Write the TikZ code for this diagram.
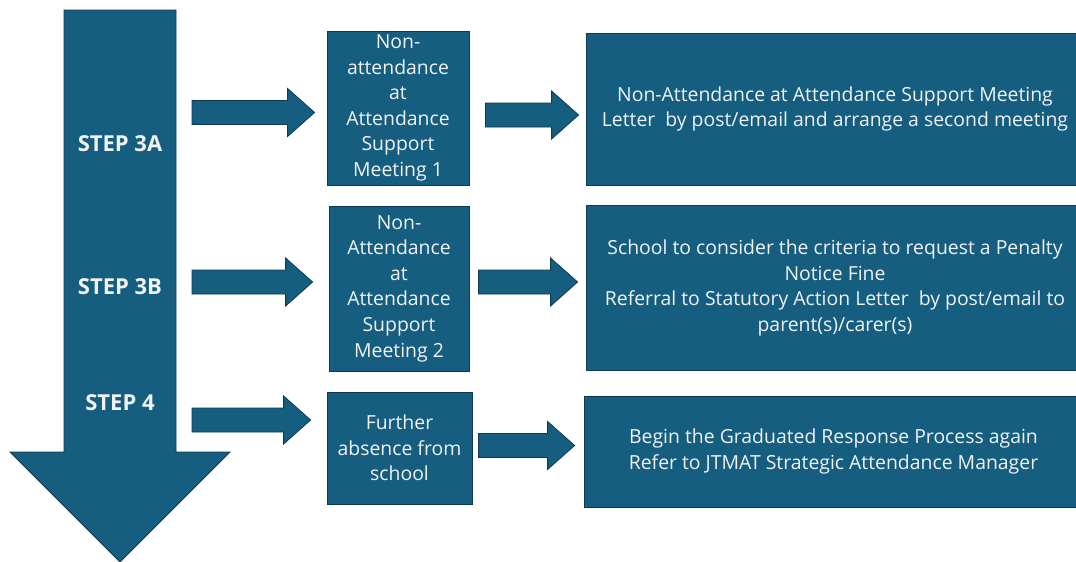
\documentclass[tikz,border=0pt]{standalone}
\usepackage{fontspec}
\setmainfont{Open Sans}
\usetikzlibrary{calc, positioning}

\definecolor{stepblue}{RGB}{22,94,128}
\definecolor{stepedge}{RGB}{15,58,80}
\definecolor{steptext}{RGB}{240,242,244}

% block arrow: #1 tail (sets the height), #2 tip (only its x is used)
\newcommand{\blockarrow}[2]{%
  \draw[blockfill] let \p1=(#1), \p2=(#2) in
    (\x1,\y1+12pt) -- (\x2-27pt,\y1+12pt) -- (\x2-27pt,\y1+24pt) -- (\x2,\y1)
    -- (\x2-27pt,\y1-24pt) -- (\x2-27pt,\y1-12pt) -- (\x1,\y1-12pt) -- cycle;}

\begin{document}
\begin{tikzpicture}[x=1pt, y=-1pt,
    blockfill/.style={fill=stepblue, draw=stepedge, line width=0.8pt},
    box/.style={blockfill, rectangle, text=steptext, align=center, inner sep=0pt,
                font=\fontsize{19.4}{25.6}\selectfont},
    steplabel/.style={text=steptext, font=\bfseries\fontsize{22}{26}\selectfont}]

    \useasboundingbox (0,0) rectangle (1076,562);
    \clip (0,0) rectangle (1076,562);
    \fill[white] (0,0) rectangle (1076,562);

    % Draw the big down arrow
    \draw[blockfill] (64,10) -- (176,10) -- (176,452) -- (230,452) -- (120,562)
        -- (10,452) -- (64,452) -- cycle;

    \node[steplabel] (step3a) at (120,144) {STEP 3A};
    \node[steplabel] (step3b) at (120,287) {STEP 3B};
    \node[steplabel] (step4)  at (120,403) {STEP 4};

    % Draw the middle boxes
    \node[box, minimum width=142pt, minimum height=154pt] (meet1) at (398,108)
        {Non-\\attendance\\at\\Attendance\\Support\\Meeting 1};
    \node[box, minimum width=140pt, minimum height=165pt] (meet2) at (399,288.5)
        {Non-\\Attendance\\at\\Attendance\\Support\\Meeting 2};
    \node[box, minimum width=145pt, minimum height=112pt] (further) at (399.5,448)
        {Further\\absence from\\school};

    % Draw the boxes on the right
    \node[box, minimum width=498pt, minimum height=152pt] (resp1) at (835,109)
        {Non-Attendance at Attendance Support Meeting\\
         Letter~ by post/email and arrange a second meeting};
    \node[box, minimum width=498pt, minimum height=165pt] (resp2) at (835,288)
        {School to consider the criteria to request a Penalty\\
         Notice Fine\\
         Referral to Statutory Action Letter~ by post/email to\\
         parent(s)/carer(s)};
    \node[box, minimum width=499pt, minimum height=111pt] (resp3) at (833.5,451.5)
        {Begin the Graduated Response Process again\\
         Refer to JTMAT Strategic Attendance Manager};

    % Draw the block arrows between them
    \coordinate (in3a) at (192,112.5);
    \coordinate (in3b) at (192,282);
    \coordinate (in4)  at (192,420);

    \blockarrow{in3a}{[xshift=-12pt]meet1.west}
    \blockarrow{$(meet1.east)+(16,7)$}{[xshift=-7pt]resp1.west}
    \blockarrow{in3b}{[xshift=-16pt]meet2.west}
    \blockarrow{$(meet2.east)+(9,-6.5)$}{[xshift=-8pt]resp2.west}
    \blockarrow{in4}{[xshift=-16pt]further.west}
    \blockarrow{$(further.east)+(6,-2.5)$}{[xshift=-9pt]resp3.west}

\end{tikzpicture}
\end{document}
